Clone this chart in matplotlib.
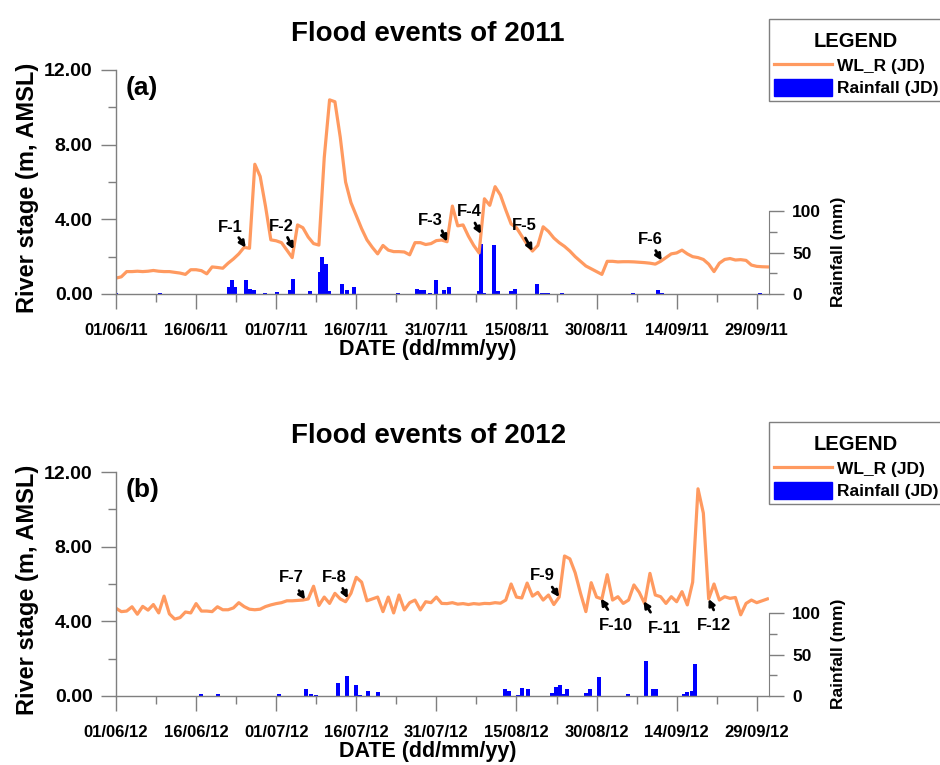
import numpy as np
import matplotlib
matplotlib.use("Agg")
import matplotlib.pyplot as plt
from matplotlib.lines import Line2D
from matplotlib.patches import Patch
from matplotlib.offsetbox import DrawingArea
from matplotlib.ticker import MultipleLocator, FixedLocator

plt.rcParams['font.family'] = ['Liberation Sans', 'DejaVu Sans']
plt.rcParams['font.weight'] = 'bold'

# ---------------- data ----------------
titles = ["Flood events of 2011", "Flood events of 2012"]
panel_tags = ["(a)", "(b)"]

date_labels_2011 = ["01/06/11", "16/06/11", "01/07/11", "16/07/11", "31/07/11",
                    "15/08/11", "30/08/11", "14/09/11", "29/09/11"]
date_labels_2012 = ["01/06/12", "16/06/12", "01/07/12", "16/07/12", "31/07/12",
                    "15/08/12", "30/08/12", "14/09/12", "29/09/12"]

# daily river stage (m, AMSL), day 0 = 1 June
wl_2011 = [0.85, 0.92, 1.2, 1.2, 1.22, 1.2, 1.22, 1.26, 1.22, 1.2,
           1.2, 1.16, 1.12, 1.05, 1.3, 1.3, 1.25, 1.08, 1.45, 1.42,
           1.38, 1.65, 1.88, 2.15, 2.5, 2.45, 6.95, 6.3, 4.7, 2.9,
           2.85, 2.75, 2.35, 1.95, 3.7, 3.55, 3.05, 2.7, 2.62, 7.3,
           10.4, 10.3, 8.4, 6.0, 4.9, 4.2, 3.5, 2.9, 2.5, 2.15,
           2.6, 2.35, 2.27, 2.27, 2.25, 2.1, 2.75, 2.75, 2.65, 2.7,
           2.86, 2.89, 2.8, 4.71, 3.65, 3.7, 3.1, 2.6, 2.2, 5.1,
           4.75, 5.75, 5.3, 4.5, 3.75, 3.55, 3.1, 2.65, 2.3, 2.6,
           3.6, 3.35, 3.0, 2.75, 2.55, 2.3, 2.0, 1.75, 1.5, 1.35,
           1.2, 1.05, 1.75, 1.75, 1.72, 1.73, 1.73, 1.72, 1.7, 1.68,
           1.65, 1.6, 1.75, 1.95, 2.15, 2.2, 2.35, 2.15, 2.0, 1.95,
           1.85, 1.6, 1.2, 1.65, 1.85, 1.9, 1.82, 1.84, 1.8, 1.55,
           1.48, 1.46, 1.45]

wl_2012 = [4.7, 4.52, 4.55, 4.78, 4.38, 4.8, 4.6, 4.9, 4.45, 5.35,
           4.4, 4.12, 4.2, 4.5, 4.45, 4.95, 4.55, 4.55, 4.52, 4.78,
           4.62, 4.62, 4.72, 5.0, 4.79, 4.65, 4.62, 4.65, 4.79, 4.88,
           4.95, 5.0, 5.1, 5.1, 5.12, 5.14, 5.2, 5.88, 4.85, 5.3,
           4.96, 5.5, 5.2, 5.05, 5.5, 6.36, 6.1, 5.1, 5.2, 5.3,
           4.52, 5.3, 4.45, 5.41, 4.61, 5.0, 5.14, 4.61, 5.05, 5.0,
           5.3, 4.96, 4.95, 5.0, 4.92, 4.95, 4.9, 4.95, 4.92, 4.96,
           4.95, 5.0, 4.97, 5.14, 6.0, 5.3, 5.25, 6.05, 5.35, 5.55,
           5.14, 5.41, 4.9, 5.3, 7.5, 7.35, 6.6, 5.5, 4.52, 6.07,
           5.3, 5.2, 6.5, 5.14, 5.32, 4.96, 5.14, 5.95, 5.55, 4.96,
           6.57, 5.41, 5.32, 4.96, 5.32, 5.05, 5.59, 4.88, 6.1, 11.1,
           9.8, 5.2, 6.0, 5.14, 5.32, 5.23, 5.28, 4.35, 4.96, 5.14,
           5.0, 5.1, 5.2]

# rainfall (mm): day position and amount
rain_day_2011 = [0.0, 8.2, 21.1, 21.7, 22.3, 24.4, 25.1, 25.8, 27.9, 30.1,
                 32.6, 33.2, 36.4, 38.2, 38.6, 39.3, 39.9, 42.4, 43.3, 44.5,
                 52.8, 56.4, 57.0, 57.6, 58.9, 59.9, 61.4, 62.3, 67.9, 68.4,
                 68.9, 70.8, 71.6, 73.9, 74.7, 78.9, 79.7, 80.4, 81.0, 83.6,
                 96.9, 101.6, 102.2, 120.6]
rain_mm_2011 = [0.8, 0.8, 8.0, 17.0, 9.0, 17.0, 6.0, 5.0, 1.0, 2.5,
                5.0, 18.5, 3.6, 26.5, 44.6, 36.5, 3.6, 11.6, 4.4, 8.4,
                1.0, 6.4, 4.4, 4.4, 1.2, 17.0, 5.2, 8.4, 4.0, 60.6,
                1.5, 58.6, 3.6, 3.6, 5.6, 11.6, 1.2, 1.2, 1.2, 1.6,
                0.8, 4.4, 1.0, 0.8]

rain_day_2012 = [8.9, 16.0, 19.1, 30.5, 35.6, 36.5, 37.4, 41.5, 43.2, 44.9,
                 45.7, 47.2, 49.1, 72.9, 73.6, 75.2, 76.1, 77.1, 81.6, 82.4,
                 83.1, 83.8, 84.5, 88.0, 88.7, 90.5, 95.9, 99.2, 100.5, 101.2,
                 105.2, 106.3, 107.0, 107.8, 108.5]
rain_mm_2012 = [0.5, 3.0, 2.0, 3.0, 8.0, 3.0, 1.0, 16.0, 24.0, 13.0,
                1.0, 6.0, 5.0, 9.0, 6.0, 0.8, 10.0, 8.0, 4.0, 11.0,
                13.5, 2.0, 8.0, 4.0, 9.0, 23.0, 2.0, 42.0, 8.0, 8.0,
                0.5, 3.0, 5.0, 6.0, 38.0]

# flood event labels: (label, day of arrow tip)
events_2011 = [("F-1", 24.3), ("F-2", 33.25), ("F-3", 62.0),
               ("F-4", 68.35), ("F-5", 78.0), ("F-6", 102.2)]
events_2012 = [("F-7", 35.4), ("F-8", 43.4), ("F-9", 83.0),
               ("F-10", 90.8), ("F-11", 98.8), ("F-12", 111.0)]

# ---------------- styling / layout ----------------
WL_COLOR = "#FF9A60"
RAIN_COLOR = "#0000FF"
GREY = "#7f7f7f"

# text offset (px) and arrow tail offset (px) relative to the arrow tip
ann_2011 = [((-15, 20), (-7, 10)), ((-12, 23), (-6, 12)), ((-17, 21), (-5, 11)),
            ((-12, 22), (-6, 11)), ((-8, 26), (-7, 13)), ((-11, 21), (-6, 10))]
ann_2012 = [((-14, 22), (-6, 9)), ((-13, 21), (-5, 10)), ((-17, 22), (-7, 10)),
            ((15, -27), (7, -11)), ((21, -27), (7, -11)), ((5, -27), (5, -11))]

fig = plt.figure(figsize=(9.4, 7.65), dpi=100)

panels = [
    (0.6157, titles[0], panel_tags[0], date_labels_2011, wl_2011,
     rain_day_2011, rain_mm_2011, events_2011, ann_2011, 1 - 19 / 765),
    (0.0902, titles[1], panel_tags[1], date_labels_2012, wl_2012,
     rain_day_2012, rain_mm_2012, events_2012, ann_2012, 1 - 422 / 765),
]

for (bottom, title, tag, dlabels, wl, rday, rmm, events, ann, leg_top) in panels:
    ax = fig.add_axes([0.1234, bottom, 0.6947, 0.2928])
    ax2 = ax.twinx()
    ax.set_zorder(ax2.get_zorder() + 1)
    ax.patch.set_visible(False)

    days = np.arange(len(wl))
    line, = ax.plot(days, wl, color=WL_COLOR, lw=2.3, solid_joinstyle='round')
    bars = ax2.bar(rday, rmm, width=0.75, color=RAIN_COLOR, linewidth=0)

    ax.set_xlim(0, 122.3)
    ax.set_ylim(0, 12)
    ax2.set_ylim(0, 270)

    for s in ["top", "right"]:
        ax.spines[s].set_visible(False)
    for s in ["left", "bottom"]:
        ax.spines[s].set_color(GREY)
        ax.spines[s].set_linewidth(1)
    for s in ["top", "left", "bottom"]:
        ax2.spines[s].set_visible(False)
    ax2.spines["right"].set_color(GREY)
    ax2.spines["right"].set_bounds(0, 100)

    ax.set_xticks(np.arange(len(dlabels)) * 15, dlabels)
    ax.xaxis.set_minor_locator(MultipleLocator(7.5))
    ax.set_yticks([0, 4, 8, 12], ["%.2f" % v for v in [0, 4, 8, 12]])
    ax.yaxis.set_minor_locator(FixedLocator([2, 6, 10]))
    ax.tick_params(axis="both", which="major", direction="out", length=10.8,
                   width=1, color=GREY)
    ax.tick_params(axis="both", which="minor", direction="out", length=5.8,
                   width=1, color=GREY)
    ax.tick_params(axis="x", which="major", labelsize=12, pad=10)
    ax.tick_params(axis="y", which="major", labelsize=14, pad=6)

    ax2.set_yticks([0, 50, 100], ["0", "50", "100"])
    ax2.yaxis.set_minor_locator(FixedLocator([25, 75]))
    ax2.tick_params(axis="y", which="major", direction="out", length=10.8,
                    width=1, color=GREY, pad=6, labelsize=12.5)
    ax2.tick_params(axis="y", which="minor", direction="out", length=5.8,
                    width=1, color=GREY)

    ax.set_ylabel("River stage (m, AMSL)", fontsize=17, fontweight="bold",
                  va="center", ha="center")
    ax.yaxis.set_label_coords(-0.135, 0.473)
    ax.set_xlabel("DATE (dd/mm/yy)", fontsize=15.5, fontweight="bold",
                  va="center", ha="center")
    ax.xaxis.set_label_coords(0.478, -0.248)
    ax2.set_ylabel("Rainfall (mm)", fontsize=12.5, fontweight="bold",
                   va="center", ha="center")
    ax2.yaxis.set_label_coords(1.107, 0.1875)

    ax.set_title(title, fontsize=20, fontweight="bold", x=0.478, y=1.16,
                 va="center", pad=0)
    ax.text(0.0153, 0.918, tag, transform=ax.transAxes, fontsize=19,
            fontweight="bold", ha="left", va="center")

    for (lab, tday), (toff, aoff) in zip(events, ann):
        tip = (tday, float(np.interp(tday, days, wl)))
        ax.annotate(lab, xy=tip, xytext=toff, textcoords="offset pixels",
                    ha="center", va="center", fontsize=12, fontweight="bold")
        ax.annotate("", xy=tip, xytext=aoff, textcoords="offset pixels",
                    arrowprops=dict(arrowstyle="-|>", color="black", lw=2,
                                    mutation_scale=9, shrinkA=0, shrinkB=0))

    handles = [Line2D([], [], color=WL_COLOR, lw=2.3), Patch(color=RAIN_COLOR)]
    leg = ax.legend(handles, ["WL_R (JD)", "Rainfall (JD)"], title="LEGEND",
                    loc="upper left", bbox_to_anchor=(769 / 940, leg_top),
                    bbox_transform=fig.transFigure, borderaxespad=0,
                    fontsize=12.5, title_fontproperties={"weight": "bold", "size": 14.5},
                    frameon=True, fancybox=False, framealpha=1, edgecolor=GREY,
                    handlelength=3.34, handleheight=1.1, handletextpad=0.25,
                    labelspacing=0.3, borderpad=0.3)
    leg.get_frame().set_linewidth(1)
    # extra room above the legend title
    leg._legend_box.get_children().insert(0, DrawingArea(1, 2))

fig.savefig("out.png", dpi=100)
